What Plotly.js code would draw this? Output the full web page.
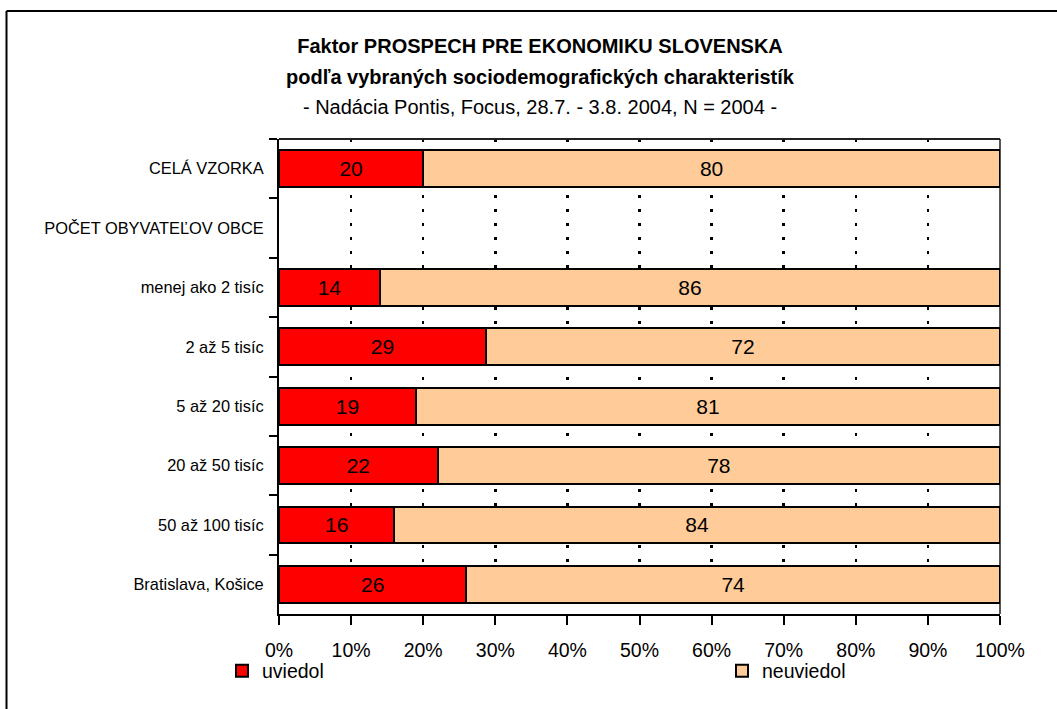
<!DOCTYPE html>
<html>
<head>
<meta charset="utf-8">
<script src="https://cdn.plot.ly/plotly-3.0.1.min.js"></script>
<style>html,body{margin:0;padding:0;background:#fff;}#chart{width:1057px;height:709px;}</style>
</head>
<body>
<div id="chart"></div>
<script>
const categories = ["CELÁ VZORKA", "POČET OBYVATEĽOV OBCE", "menej ako 2 tisíc", "2 až 5 tisíc", "5 až 20 tisíc", "20 až 50 tisíc", "50 až 100 tisíc", "Bratislava, Košice"];
const uviedol = [20, null, 14, 29, 19, 22, 16, 26];
const neuviedol = [80, null, 86, 72, 81, 78, 84, 74];
const tickVals = [0, 10, 20, 30, 40, 50, 60, 70, 80, 90, 100];
const tickText = ["0%", "10%", "20%", "30%", "40%", "50%", "60%", "70%", "80%", "90%", "100%"];

const FONT = "'Liberation Sans', Arial, sans-serif";

const mk = (name, vals, color, leg) => ({
  type: 'bar', orientation: 'h', name: name, legend: leg,
  y: categories, x: vals,
  text: vals.map(v => v == null ? '' : String(v)),
  textposition: 'inside', insidetextanchor: 'middle', constraintext: 'none',
  textfont: {family: FONT, size: 21, color: '#000'},
  marker: {color: color, line: {color: '#000', width: 2}},
  hoverinfo: 'skip'
});

const data = [mk('uviedol', uviedol, '#FF0000', 'legend'), mk('neuviedol', neuviedol, '#FFCC99', 'legend2')];

const pxX = v => (v - 279) / 721;
const pxY = v => (614 - v) / 475;

const legBase = {
  orientation: 'h', xref: 'container', yref: 'container',
  xanchor: 'left', y: 1 - 671 / 709, yanchor: 'middle',
  font: {family: FONT, size: 19.5, color: '#000'},
  itemwidth: 30, bgcolor: 'rgba(0,0,0,0)', borderwidth: 0
};

const layout = {
  width: 1057, height: 709,
  paper_bgcolor: '#fff', plot_bgcolor: '#fff',
  margin: {l: 279, r: 57, t: 139, b: 95, pad: 0},
  font: {family: FONT, color: '#000'},
  barmode: 'stack', barnorm: 'percent', bargap: 0.38,
  title: {
    text: '<b><span style="font-size:20px">Faktor PROSPECH PRE EKONOMIKU SLOVENSKA</span></b><br><b><span style="font-size:20px">podľa vybraných sociodemografických charakteristík</span></b><br><span style="font-size:20px">- Nadácia Pontis, Focus, 28.7. - 3.8. 2004, N = 2004 -</span>',
    font: {family: FONT, size: 23.5, color: '#000'},
    xref: 'container', x: 540 / 1057, xanchor: 'center',
    yref: 'container', y: 1 - 53 / 709, yanchor: 'top'
  },
  xaxis: {
    range: [0, 100], tickvals: tickVals, ticktext: tickText,
    ticks: 'outside', ticklen: 9, tickwidth: 2, tickcolor: '#000',
    showline: true, linecolor: '#000', linewidth: 2,
    showgrid: true, gridcolor: '#000', gridwidth: 2.5, griddash: '3px,11px',
    zeroline: false,
    tickfont: {family: FONT, size: 19.5, color: '#000'},
    ticklabelstandoff: 9, fixedrange: true
  },
  yaxis: {
    type: 'category', autorange: 'reversed',
    ticks: 'outside', ticklen: 8, tickwidth: 2, tickcolor: '#000', tickson: 'boundaries',
    showline: true, linecolor: '#000', linewidth: 2,
    showgrid: false, zeroline: false,
    tickfont: {family: FONT, size: 16.4, color: '#000'},
    ticklabelstandoff: 10, fixedrange: true
  },
  showlegend: true,
  legend: Object.assign({}, legBase, {x: 222 / 1057}),
  legend2: Object.assign({}, legBase, {x: 722 / 1057}),
  shapes: [
    {type: 'line', xref: 'paper', yref: 'paper', x0: 0, x1: 1, y0: 1, y1: 1, line: {color: '#222', width: 2}},
    {type: 'line', xref: 'paper', yref: 'paper', x0: 1, x1: 1, y0: 0, y1: 1, layer: 'below', line: {color: '#555', width: 2}},
    {type: 'line', xref: 'paper', yref: 'paper', x0: pxX(6.5), x1: pxX(1100), y0: pxY(11), y1: pxY(11), line: {color: '#000', width: 2}},
    {type: 'line', xref: 'paper', yref: 'paper', x0: pxX(6.5), x1: pxX(6.5), y0: pxY(11), y1: pxY(760), line: {color: '#000', width: 2}}
  ]
};

Plotly.newPlot('chart', data, layout, {staticPlot: true, displayModeBar: false});
</script>
</body>
</html>
